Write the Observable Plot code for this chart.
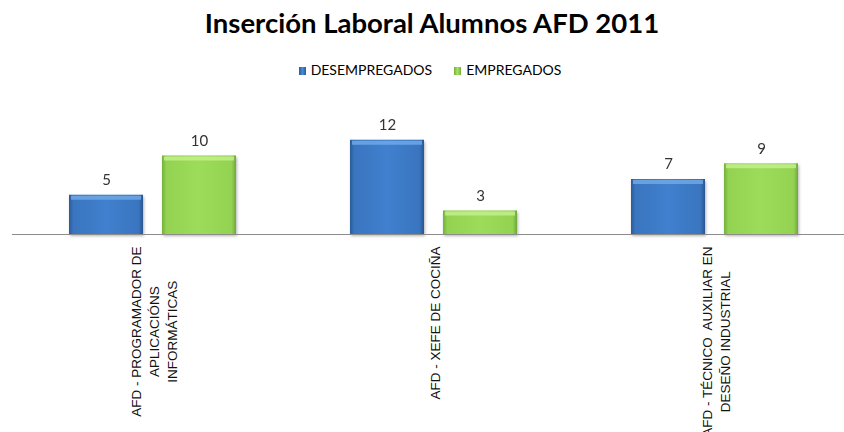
<!DOCTYPE html>
<html>
<head>
<meta charset="utf-8">
<script src="https://cdn.jsdelivr.net/npm/d3@7"></script>
<script src="https://cdn.jsdelivr.net/npm/@observablehq/plot@0.6"></script>
<style>
  html, body { margin: 0; padding: 0; background: #fff; width: 844px; height: 432px; overflow: hidden; }
  #title { height: 45px; line-height: 45px; text-align: center; padding-left: 20px; font-family: Lato, sans-serif; font-weight: bold; font-size: 27.5px; color: #000; box-sizing: border-box; }
  #legend { height: 50px; line-height: 50px; text-align: center; padding-left: 16px; font-family: Lato, sans-serif; font-size: 14px; color: #000; box-sizing: border-box; }
  #legend .item { display: inline-block; margin: 0 11px; }
  #legend .sw { display: inline-block; width: 7px; height: 8px; margin-right: 5px; vertical-align: -0px; }
  #chart svg { display: block; max-width: none; }
</style>
</head>
<body>
<div id="title">Inserción Laboral Alumnos AFD 2011</div>
<div id="legend"></div>
<div id="chart"></div>
<script>
const categories = [
  "AFD - PROGRAMADOR DE\nAPLICACIÓNS\nINFORMÁTICAS",
  "AFD - XEFE DE COCIÑA",
  "AFD - TÉCNICO  AUXILIAR EN\nDESEÑO INDUSTRIAL"
];
const series = ["DESEMPREGADOS", "EMPREGADOS"];
const desempregados = [5, 12, 7];
const empregados = [10, 3, 9];

const seriesFill = ["url(#gBlue)", "url(#gGreen)"];
const seriesHighlight = ["#6fa8e6", "#c3ee8c"];
const legendCss = [
  "linear-gradient(to right,#2b5b99,#4a8ad6,#2b5b99)",
  "linear-gradient(to right,#74b03c,#a6e262,#74b03c)"
];

const data = categories.flatMap((c, i) => [
  {cat: c, series: series[0], value: desempregados[i]},
  {cat: c, series: series[1], value: empregados[i]}
]);

// legend
const legend = document.getElementById("legend");
series.forEach((s, i) => {
  const item = document.createElement("span");
  item.className = "item";
  const sw = document.createElement("span");
  sw.className = "sw";
  sw.style.background = legendCss[i];
  item.appendChild(sw);
  item.appendChild(document.createTextNode(s));
  legend.appendChild(item);
});

const chart = Plot.plot({
  width: 844,
  height: 337,
  marginLeft: 11,
  marginRight: -12,
  marginTop: 29,
  marginBottom: 198,
  style: {overflow: "visible", maxWidth: "none"},
  fx: {domain: categories, padding: 0, axis: null, label: null},
  x: {domain: series, paddingInner: 0.2, paddingOuter: 0.6, axis: null},
  y: {domain: [0, 14], axis: null},
  color: {domain: series, range: seriesFill},
  marks: [
    Plot.barY(data, {fx: "cat", x: "series", y: "value", fill: "series"}),
    ...series.map((s, i) => Plot.tickY(data.filter(d => d.series === s), {
      fx: "cat", x: "series", y: "value", stroke: seriesHighlight[i], strokeWidth: 4, dy: 2.5,
      insetLeft: 2, insetRight: 2, strokeOpacity: 0.85
    })),
    Plot.ruleY([0], {stroke: "#8c8c8c", strokeWidth: 1}),
    Plot.text(data, {
      fx: "cat", x: "series", y: "value", text: "value", dy: -15,
      fill: "#333", fontSize: 15, fontFamily: "Lato, sans-serif"
    }),
    Plot.text(categories, {
      fx: d => d, text: d => d, frameAnchor: "bottom", dy: 12,
      rotate: -90, textAnchor: "end", lineAnchor: "middle", lineHeight: 1.33,
      fontSize: 13.5, fontFamily: "Liberation Sans, Arial, sans-serif", fill: "#111",
      ariaDescription: "category-labels"
    })
  ]
});

document.getElementById("chart").appendChild(chart);

// gradients for the bar fills
const ns = "http://www.w3.org/2000/svg";
const defs = document.createElementNS(ns, "defs");
function grad(id, stops) {
  const g = document.createElementNS(ns, "linearGradient");
  g.setAttribute("id", id);
  g.setAttribute("x1", "0"); g.setAttribute("y1", "0");
  g.setAttribute("x2", "1"); g.setAttribute("y2", "0");
  stops.forEach(([o, c]) => {
    const st = document.createElementNS(ns, "stop");
    st.setAttribute("offset", o);
    st.setAttribute("stop-color", c);
    g.appendChild(st);
  });
  defs.appendChild(g);
}
grad("gBlue", [[0, "#2b5b99"], [0.06, "#3a75bf"], [0.5, "#4080ce"], [0.94, "#3a75bf"], [1, "#2a5590"]]);
grad("gGreen", [[0, "#74b03c"], [0.06, "#93d351"], [0.5, "#9cdc5a"], [0.94, "#93d351"], [1, "#6fa83a"]]);
chart.insertBefore(defs, chart.firstChild);

// subtle shadow on bars
chart.querySelectorAll('g[aria-label="bar"]').forEach(g => {
  g.style.filter = "drop-shadow(1px 2px 1.5px rgba(0,0,0,0.3))";
});

// center multi-line category labels on their longest line
chart.querySelectorAll('g[aria-description="category-labels"] text').forEach(t => {
  const spans = t.querySelectorAll("tspan");
  let maxLen = 0;
  if (spans.length) spans.forEach(s => { maxLen = Math.max(maxLen, s.getComputedTextLength()); });
  else maxLen = t.getComputedTextLength();
  t.setAttribute("text-anchor", "middle");
  t.setAttribute("transform", (t.getAttribute("transform") || "") + ` translate(${-maxLen / 2},0)`);
});
</script>
</body>
</html>
